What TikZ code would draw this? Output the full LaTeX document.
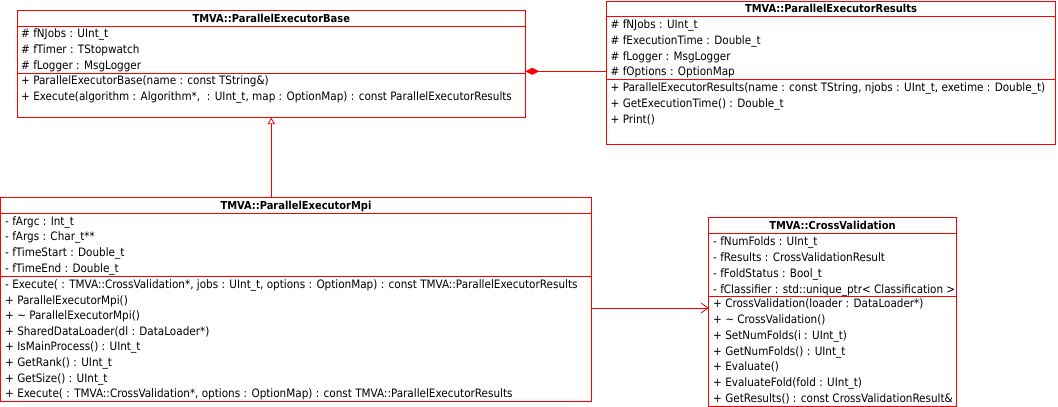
\documentclass[tikz,border=0pt]{standalone}
\usepackage{fontspec}
\setmainfont{DejaVu Sans Condensed}
\usetikzlibrary{arrows.meta}
\begin{document}
\begin{tikzpicture}[x=1pt,y=-1pt,
  cls/.style={draw=red, line width=1pt, anchor=north west, inner sep=0pt, outer sep=0pt},
  sep/.style={draw=red, line width=1pt},
  mem/.style={anchor=west, inner sep=0pt, text height=8pt, text depth=0pt, font=\fontsize{11.6}{13}\selectfont},
  ttl/.style={anchor=center, inner sep=0pt, text height=8pt, text depth=0pt, font=\fontsize{11}{12}\selectfont\bfseries},
  conn/.style={draw=red, line width=1pt}]
\useasboundingbox (0,0) rectangle (1058,407);

% ParallelExecutorBase
\node[cls, minimum width=508pt, minimum height=107pt] (base) at (17.3,10.7) {};
\node[ttl] (baseT) at (271.3,18.3) {TMVA::ParallelExecutorBase};
\draw[sep] (17.3,26.3) -- (525.3,26.3);
\draw[sep] (17.3,73) -- (525.3,73);
\node[mem] (b1) at (21,33.7) {\# fNJobs : UInt\_t};
\node[mem] (b2) at (21,49.3) {\# fTimer : TStopwatch};
\node[mem] (b3) at (21,65.3) {\# fLogger : MsgLogger};
\node[mem] (b4) at (21,80.7) {+ ParallelExecutorBase(name : const TString\&)};
\node[mem] (b5) at (21,96.7) {+ Execute(algorithm : Algorithm*, ~: UInt\_t, map : OptionMap) : const ParallelExecutorResults};

% ParallelExecutorResults
\node[cls, minimum width=448.6pt, minimum height=143.3pt] (res) at (606.7,1) {};
\node[ttl] (resT) at (831,8.7) {TMVA::ParallelExecutorResults};
\draw[sep] (606.7,16) -- (1055.3,16);
\draw[sep] (606.7,79.3) -- (1055.3,79.3);
\node[mem] (r1) at (610.5,24) {\# fNJobs : UInt\_t};
\node[mem] (r2) at (610.5,40) {\# fExecutionTime : Double\_t};
\node[mem] (r3) at (610.5,56) {\# fLogger : MsgLogger};
\node[mem] (r4) at (610.5,71.3) {\# fOptions : OptionMap};
\node[mem] (r5) at (610.5,87.3) {+ ParallelExecutorResults(name : const TString, njobs : UInt\_t, exetime : Double\_t)};
\node[mem] (r6) at (610.5,103.3) {+ GetExecutionTime() : Double\_t};
\node[mem] (r7) at (610.5,119) {+ Print()};

% ParallelExecutorMpi
\node[cls, minimum width=590.8pt, minimum height=204pt] (mpi) at (0.5,197.3) {};
\node[ttl] (mpiT) at (296,205.3) {TMVA::ParallelExecutorMpi};
\draw[sep] (0.5,213) -- (591.3,213);
\draw[sep] (0.5,276.3) -- (591.3,276.3);
\node[mem] (m1) at (5,221) {- fArgc : Int\_t};
\node[mem] (m2) at (5,236.7) {- fArgs : Char\_t**};
\node[mem] (m3) at (5,252.7) {- fTimeStart : Double\_t};
\node[mem] (m4) at (5,268.3) {- fTimeEnd : Double\_t};
\node[mem] (m5) at (5,284) {- Execute( : TMVA::CrossValidation*, jobs : UInt\_t, options : OptionMap) : const TMVA::ParallelExecutorResults};
\node[mem] (m6) at (5,300) {+ ParallelExecutorMpi()};
\node[mem] (m7) at (5,315.7) {+ \textasciitilde{} ParallelExecutorMpi()};
\node[mem] (m8) at (5,331.3) {+ SharedDataLoader(dl : DataLoader*)};
\node[mem] (m9) at (5,346.7) {+ IsMainProcess() : UInt\_t};
\node[mem] (m10) at (5,362.7) {+ GetRank() : UInt\_t};
\node[mem] (m11) at (5,378) {+ GetSize() : UInt\_t};
\node[mem] (m12) at (5,393.7) {+ Execute( : TMVA::CrossValidation*, options : OptionMap) : const TMVA::ParallelExecutorResults};

% CrossValidation
\node[cls, minimum width=247.6pt, minimum height=188.3pt] (cv) at (708.7,217.7) {};
\node[ttl] (cvT) at (832.5,225.5) {TMVA::CrossValidation};
\draw[sep] (708.7,233.3) -- (956.3,233.3);
\draw[sep] (708.7,296.3) -- (956.3,296.3);
\node[mem] (c1) at (713,241.7) {- fNumFolds : UInt\_t};
\node[mem] (c2) at (713,257.3) {- fResults : CrossValidationResult};
\node[mem] (c3) at (713,273.3) {- fFoldStatus : Bool\_t};
\node[mem] (c4) at (713,289) {- fClassifier : std::unique\_ptr< Classification >};
\node[mem] (c5) at (713,303.7) {+ CrossValidation(loader : DataLoader*)};
\node[mem] (c6) at (713,319.7) {+ \textasciitilde{} CrossValidation()};
\node[mem] (c7) at (713,335.7) {+ SetNumFolds(i : UInt\_t)};
\node[mem] (c8) at (713,351) {+ GetNumFolds() : UInt\_t};
\node[mem] (c9) at (713,366.7) {+ Evaluate()};
\node[mem] (c10) at (713,382.7) {+ EvaluateFold(fold : UInt\_t)};
\node[mem] (c11) at (713,398.7) {+ GetResults() : const CrossValidationResult\&};

% connectors
\coordinate (cmp) at (525.3,71.3);
\draw[conn, -{Diamond[length=14pt,width=7pt]}] (cmp -| res.west) -- (cmp);
\draw[conn, -{Triangle[open,length=6.5pt,width=7.5pt,line width=0.8pt]}] (base.south |- mpi.north) -- (base.south);
\coordinate (asc) at (591.3,308);
\draw[conn, -{Straight Barb[length=7pt,width=10pt,line width=0.8pt]}] (asc) -- (asc -| cv.west);
\end{tikzpicture}
\end{document}
